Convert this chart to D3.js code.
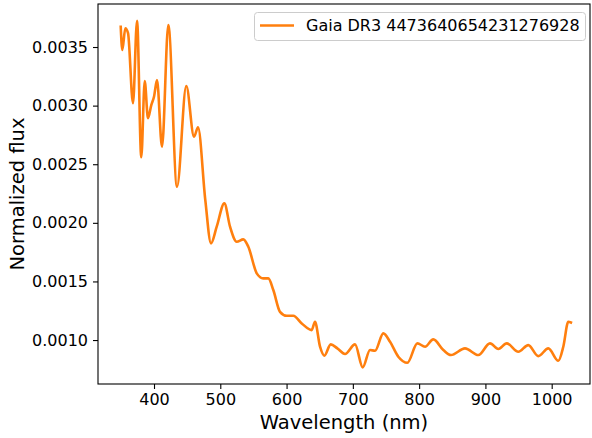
<!DOCTYPE html>
<html>
<head>
<meta charset="utf-8">
<script src="https://cdn.jsdelivr.net/npm/d3@7"></script>
<style>
  body { margin: 0; background: #fff; }
  svg { font-family: "DejaVu Sans", sans-serif; }
</style>
</head>
<body>
<div id="chart"></div>
<script>
// spectrum
const wavelength = [349.8, 352.2, 356.7, 360.8, 368.3, 374.4, 380.8, 386.0, 390.9, 395.9,
  400.0, 404.5, 412.1, 421.6, 434.7, 448.7, 460.4, 466.4, 477.4, 486.0,
  494.6, 506.1, 514.7, 524.8, 534.7, 542.3, 555.0, 564.9, 572.5, 580.0,
  590.1, 600.2, 610.2, 622.9, 637.9, 642.9, 650.5, 657.0, 666.6, 676.6,
  688.2, 703.3, 714.9, 725.9, 733.4, 746.0, 756.1, 768.6, 782.2, 797.3,
  808.9, 821.4, 836.5, 848.0, 869.2, 889.3, 906.9, 919.5, 932.2, 949.7,
  964.7, 979.8, 994.9, 1010.0, 1017.5, 1025.1, 1029.0];
const flux = [0.003673, 0.003474, 0.003659, 0.003619, 0.003020, 0.003724, 0.002559, 0.003210, 0.002892, 0.003005,
  0.003076, 0.003218, 0.002649, 0.003688, 0.002308, 0.003167, 0.002735, 0.002815, 0.002194, 0.001825,
  0.001967, 0.002166, 0.001967, 0.001839, 0.001859, 0.001796, 0.001569, 0.001526, 0.001526, 0.001427,
  0.001241, 0.001207, 0.001207, 0.001142, 0.001085, 0.001156, 0.000943, 0.000866, 0.000963, 0.000929,
  0.000881, 0.000963, 0.000767, 0.000915, 0.000909, 0.001057, 0.000985, 0.000858, 0.000806, 0.000972,
  0.000943, 0.001006, 0.000915, 0.000872, 0.000929, 0.000872, 0.000972, 0.000923, 0.000972, 0.000900,
  0.000957, 0.000863, 0.000929, 0.000823, 0.000943, 0.001156, 0.001150];
const xTicks = [400, 500, 600, 700, 800, 900, 1000];
const yTicks = [0.0010, 0.0015, 0.0020, 0.0025, 0.0030, 0.0035];
const seriesName = "Gaia DR3 4473640654231276928";

let width = 592, height = 438;
let margin = {left: 98, right: 2, top: 4, bottom: 54};

let svg = d3.select("#chart").append("svg")
  .attr("width", width)
  .attr("height", height);

let x = d3.scaleLinear()
  .domain([315.5, 1057.8])
  .range([margin.left, width - margin.right]);
let y = d3.scaleLinear()
  .domain([0.000625, 0.003867])
  .range([height - margin.bottom, margin.top]);

// axes
let xAxis = svg.append("g")
  .attr("transform", `translate(0, ${height - margin.bottom})`)
  .call(d3.axisBottom(x).tickValues(xTicks).tickSize(5).tickPadding(5).tickFormat(d3.format("d")));
let yAxis = svg.append("g")
  .attr("transform", `translate(${margin.left}, 0)`)
  .call(d3.axisLeft(y).tickValues(yTicks).tickSize(5).tickPadding(5).tickFormat(d3.format(".4f")));

[xAxis, yAxis].forEach(function(g) {
  g.select(".domain").remove();
  g.selectAll("line").attr("stroke", "#000").attr("stroke-width", 1.1);
  g.selectAll("text").attr("fill", "#000").style("font-size", "16px").style("font-family", "DejaVu Sans");
});

// the spectrum
let pts = wavelength.map((w, i) => [w, flux[i]]);
let line = d3.line()
  .x(d => x(d[0]))
  .y(d => y(d[1]))
  .curve(d3.curveMonotoneX);

svg.append("path")
  .datum(pts)
  .attr("fill", "none")
  .attr("stroke", "#ff7f0e")
  .attr("stroke-width", 2.6)
  .attr("stroke-linejoin", "round")
  .attr("stroke-linecap", "square")
  .attr("d", line);

// frame
svg.append("rect")
  .attr("x", margin.left)
  .attr("y", margin.top)
  .attr("width", width - margin.left - margin.right)
  .attr("height", height - margin.top - margin.bottom)
  .attr("fill", "none")
  .attr("stroke", "#000")
  .attr("stroke-width", 1.1);

// axis labels
svg.append("text")
  .attr("x", (margin.left + width - margin.right) / 2)
  .attr("y", 429)
  .attr("text-anchor", "middle")
  .style("font-size", "19.5px")
  .text("Wavelength (nm)");
svg.append("text")
  .attr("transform", `translate(24, ${(margin.top + height - margin.bottom) / 2}) rotate(-90)`)
  .attr("text-anchor", "middle")
  .style("font-size", "19.5px")
  .text("Normalized flux");

// legend
let legend = svg.append("g");
legend.append("rect")
  .attr("x", 254.5).attr("y", 12.5)
  .attr("width", 331).attr("height", 28)
  .attr("rx", 3)
  .attr("fill", "#fff")
  .attr("fill-opacity", 0.8)
  .attr("stroke", "#cccccc");
legend.append("line")
  .attr("x1", 260).attr("x2", 294)
  .attr("y1", 25.5).attr("y2", 25.5)
  .attr("stroke", "#ff7f0e")
  .attr("stroke-width", 2.6);
legend.append("text")
  .attr("x", 306).attr("y", 31)
  .style("font-size", "16px")
  .text(seriesName);
</script>
</body>
</html>
